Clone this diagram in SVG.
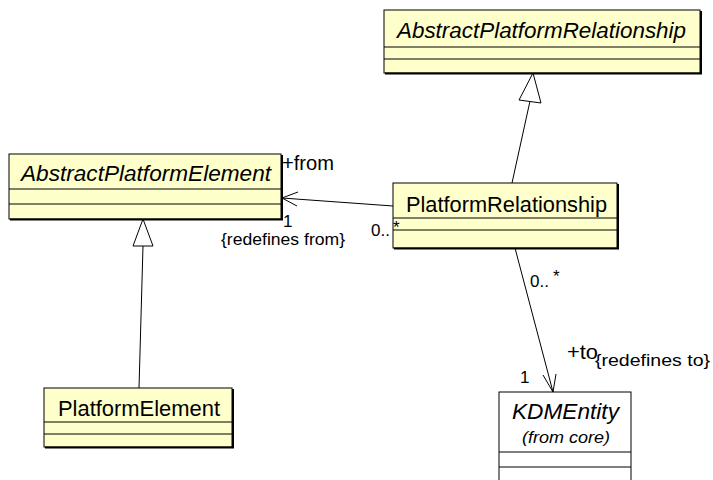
<svg xmlns="http://www.w3.org/2000/svg" width="713" height="480" viewBox="0 0 713 480">
<style>
.box{fill:#ffffcc;stroke:#000;stroke-width:1}
.wbox{fill:#fff;stroke:#000;stroke-width:1}
.sh{fill:none;stroke:#000;stroke-width:2}
.ln{stroke:#000;stroke-width:1;fill:none}
.t{font-family:"Liberation Sans",Arial,sans-serif;font-size:22px;fill:#000}
.ti{font-family:"Liberation Sans",Arial,sans-serif;font-size:22px;font-style:italic;fill:#000}
.r{font-family:"Liberation Sans",Arial,sans-serif;font-size:21px;fill:#000}
.s{font-family:"Liberation Sans",Arial,sans-serif;font-size:16px;fill:#000}
.m{font-family:"Liberation Sans",Arial,sans-serif;font-size:17px;fill:#000}
.tri{fill:#fff;stroke:#000;stroke-width:1}
</style>
<rect width="713" height="480" fill="#fff"/>
<g id="AbstractPlatformRelationship">
<rect class="box" x="384" y="10" width="316" height="63"/>
<path class="sh" d="M385 73.5H701V11"/>
<line class="ln" x1="384" y1="47" x2="700" y2="47"/>
<line class="ln" x1="384" y1="59" x2="700" y2="59"/>
<text class="ti" x="397" y="38" textLength="289" lengthAdjust="spacingAndGlyphs">AbstractPlatformRelationship</text>
</g>
<g id="PlatformRelationship">
<rect class="box" x="393" y="183" width="224" height="65"/>
<path class="sh" d="M394 248.5H618V184"/>
<line class="ln" x1="393" y1="218" x2="617" y2="218"/>
<line class="ln" x1="393" y1="230" x2="617" y2="230"/>
<text class="t" x="406" y="212" textLength="201" lengthAdjust="spacingAndGlyphs">PlatformRelationship</text>
</g>
<g id="AbstractPlatformElement">
<rect class="box" x="9" y="154" width="272" height="65"/>
<path class="sh" d="M10 219.5H282V155"/>
<line class="ln" x1="9" y1="189" x2="281" y2="189"/>
<line class="ln" x1="9" y1="204" x2="281" y2="204"/>
<text class="ti" x="21" y="181" textLength="250" lengthAdjust="spacingAndGlyphs">AbstractPlatformElement</text>
</g>
<g id="PlatformElement">
<rect class="box" x="44" y="388" width="188" height="59"/>
<path class="sh" d="M45 447.5H233V389"/>
<line class="ln" x1="44" y1="422" x2="232" y2="422"/>
<line class="ln" x1="44" y1="434" x2="232" y2="434"/>
<text class="t" x="58" y="416" textLength="162" lengthAdjust="spacingAndGlyphs">PlatformElement</text>
</g>
<g id="KDMEntity">
<rect class="wbox" x="499" y="392" width="132" height="95"/>
<line class="ln" x1="499" y1="452" x2="631" y2="452"/>
<line class="ln" x1="499" y1="467" x2="631" y2="467"/>
<text class="ti" x="512" y="419" textLength="107" lengthAdjust="spacingAndGlyphs">KDMEntity</text>
<text class="s" x="522" y="443" font-style="italic" textLength="88" lengthAdjust="spacingAndGlyphs">(from core)</text>
</g>
<g id="connectors">
<line class="ln" x1="512" y1="183" x2="530" y2="101"/>
<polygon class="tri" points="533,73 519,100 541,103"/>
<line class="ln" x1="139" y1="388" x2="143" y2="246"/>
<polygon class="tri" points="143,219 133,246 153,246"/>
<line class="ln" x1="393" y1="206" x2="282" y2="198"/>
<polyline class="ln" points="298,192 282,198 297,206"/>
<line class="ln" x1="515" y1="248" x2="553" y2="392"/>
<polyline class="ln" points="543,375 553,392 556,374"/>
</g>
<g id="labels">
<text class="r" x="282" y="170" textLength="52" lengthAdjust="spacingAndGlyphs">+from</text>
<text class="m" x="283" y="227">1</text>
<text class="s" x="221" y="245" textLength="124" lengthAdjust="spacingAndGlyphs">{redefines from}</text>
<text class="m" x="371" y="236">0..</text>
<text class="m" x="393" y="233" font-size="13">*</text>
<text class="m" x="530" y="287">0..</text>
<text class="m" x="553" y="282" font-size="13">*</text>
<text class="r" x="567" y="359" textLength="31" lengthAdjust="spacingAndGlyphs">+to</text>
<text class="s" x="595" y="366" textLength="115" lengthAdjust="spacingAndGlyphs">{redefines to}</text>
<text class="m" x="520" y="383">1</text>
</g>
</svg>
